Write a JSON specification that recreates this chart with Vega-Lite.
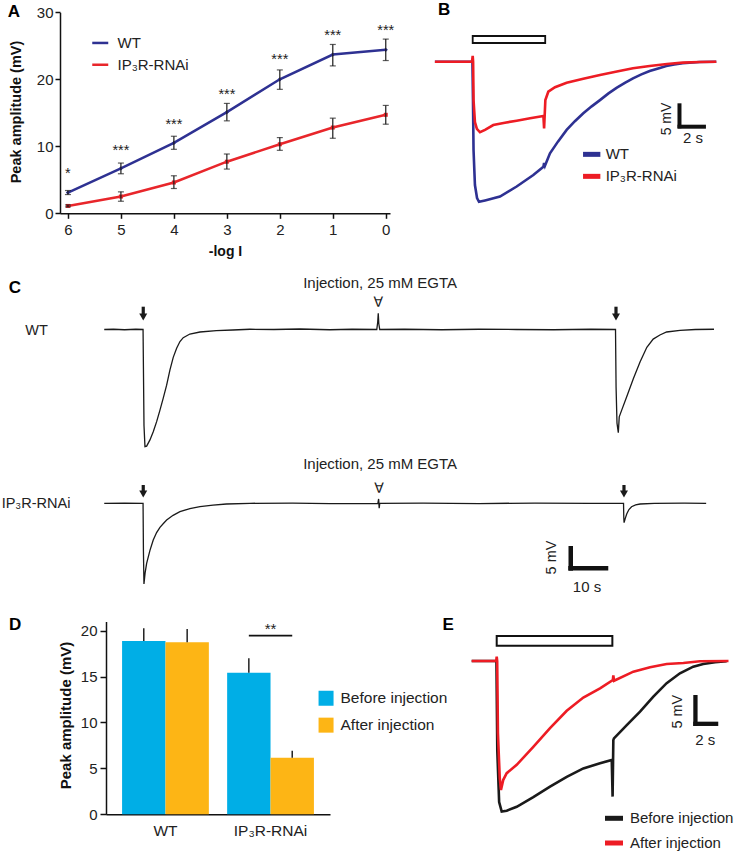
{
 "$schema": "https://vega.github.io/schema/vega-lite/v6.json",
 "width": 736, "height": 853, "autosize": {"type": "none"}, "padding": 0, "background": "white",
 "config": {
  "view": {"stroke": null},
  "font": "Liberation Sans",
  "axis": {"grid": false, "domainColor": "#111", "tickColor": "#111", "labelColor": "#222", "titleColor": "#111", "labelOverlap": false},
  "legend": {"labelColor": "#222", "padding": 0, "titlePadding": 0, "symbolOpacity": 1},
  "text": {"color": "#222"}
 },
 "resolve": {"scale": {"x": "independent", "y": "independent", "color": "independent", "xOffset": "independent"}},
 "layer": [
  {
   "data": {"values": [
    {"logI": 6, "group": "WT", "amp": 3.1, "lo": 2.8, "hi": 3.4},
    {"logI": 5, "group": "WT", "amp": 6.7, "lo": 5.9, "hi": 7.5},
    {"logI": 4, "group": "WT", "amp": 10.5, "lo": 9.55, "hi": 11.5},
    {"logI": 3, "group": "WT", "amp": 15.1, "lo": 13.8, "hi": 16.4},
    {"logI": 2, "group": "WT", "amp": 20.0, "lo": 18.5, "hi": 21.4},
    {"logI": 1, "group": "WT", "amp": 23.7, "lo": 22.0, "hi": 25.2},
    {"logI": 0, "group": "WT", "amp": 24.4, "lo": 22.8, "hi": 26.0},
    {"logI": 6, "group": "IP₃R-RNAi", "amp": 1.1, "lo": 0.95, "hi": 1.25},
    {"logI": 5, "group": "IP₃R-RNAi", "amp": 2.5, "lo": 1.8, "hi": 3.2},
    {"logI": 4, "group": "IP₃R-RNAi", "amp": 4.6, "lo": 3.7, "hi": 5.6},
    {"logI": 3, "group": "IP₃R-RNAi", "amp": 7.7, "lo": 6.6, "hi": 8.85},
    {"logI": 2, "group": "IP₃R-RNAi", "amp": 10.3, "lo": 9.4, "hi": 11.3},
    {"logI": 1, "group": "IP₃R-RNAi", "amp": 12.8, "lo": 11.2, "hi": 14.2},
    {"logI": 0, "group": "IP₃R-RNAi", "amp": 14.7, "lo": 13.3, "hi": 16.1}
   ]},
   "layer": [
    {
     "mark": {"type": "line", "strokeWidth": 2.5},
     "encoding": {
      "x": {"field": "logI", "type": "quantitative", "title": "-log I",
            "scale": {"domain": [6.15, -0.08], "range": [60, 390], "nice": false, "zero": false},
            "axis": {"orient": "bottom", "offset": -639.7, "values": [6, 5, 4, 3, 2, 1, 0], "format": "d", "title": "-log I", "titleFontSize": 14, "titleFontWeight": "bold", "titleY": 38, "titleBaseline": "middle", "labelFontSize": 15, "labelPadding": 4, "tickSize": 5, "tickWidth": 1.5, "domainWidth": 1.5, "labelFlush": false}},
      "y": {"field": "amp", "type": "quantitative", "title": "Peak amplitude (mV)",
            "scale": {"domain": [0, 30], "range": [213.3, 12.3], "nice": false, "zero": false},
            "axis": {"orient": "left", "offset": -60, "values": [0, 10, 20, 30], "title": "Peak amplitude (mV)", "titleFontSize": 14.5, "titleFontWeight": "bold", "titleX": -43.3, "titleY": 111.5, "titleBaseline": "middle", "titleAngle": 270, "labelFontSize": 15, "labelPadding": 2, "tickSize": 5, "tickWidth": 1.5, "domainWidth": 1.5}},
      "color": {"field": "group", "type": "nominal",
                "scale": {"domain": ["WT", "IP₃R-RNAi"], "range": ["#2e3192", "#e8262b"]},
                "legend": {"orient": "none", "legendX": 90.75, "legendY": 33.45, "title": null, "symbolType": "stroke", "symbolSize": 256, "symbolStrokeWidth": 2.5, "labelFontSize": 15, "rowPadding": 3.8, "labelOffset": 7.75}}
     }
    },
    {
     "transform": [{"filter": "datum.group === 'WT'"}],
     "mark": {"type": "point", "filled": true, "size": 18, "opacity": 1, "shape": "diamond"},
     "encoding": {
      "x": {"field": "logI", "type": "quantitative", "title": "-log I"},
      "y": {"field": "amp", "type": "quantitative", "title": "Peak amplitude (mV)"},
      "color": {"field": "group", "type": "nominal", "legend": null}
     }
    },
    {
     "transform": [{"filter": "datum.group !== 'WT'"}],
     "mark": {"type": "point", "filled": true, "size": 16, "opacity": 1, "shape": "square"},
     "encoding": {
      "x": {"field": "logI", "type": "quantitative", "title": "-log I"},
      "y": {"field": "amp", "type": "quantitative", "title": "Peak amplitude (mV)"},
      "color": {"field": "group", "type": "nominal", "legend": null}
     }
    },
    {
     "mark": {"type": "errorbar", "ticks": true, "color": "#1a1a1a", "thickness": 1.2, "size": 6},
     "encoding": {
      "x": {"field": "logI", "type": "quantitative", "title": "-log I"},
      "y": {"field": "lo", "type": "quantitative", "title": "Peak amplitude (mV)"},
      "y2": {"field": "hi"}
     }
    },
    {
     "data": {"values": [
      {"logI": 6, "amp": 5.21, "s": "*"},
      {"logI": 5, "amp": 8.64, "s": "***"},
      {"logI": 4, "amp": 12.57, "s": "***"},
      {"logI": 3, "amp": 17.04, "s": "***"},
      {"logI": 2, "amp": 22.22, "s": "***"},
      {"logI": 1, "amp": 25.81, "s": "***"},
      {"logI": 0, "amp": 26.6, "s": "***"}
     ]},
     "mark": {"type": "text", "fontSize": 14.5, "baseline": "alphabetic", "align": "center", "color": "#222"},
     "encoding": {
      "x": {"field": "logI", "type": "quantitative", "title": "-log I"},
      "y": {"field": "amp", "type": "quantitative", "title": "Peak amplitude (mV)"},
      "text": {"field": "s"}
     }
    },
    {
     "data": {"values": [{"logI": 7.02, "amp": 29.34, "s": "A"}]},
     "mark": {"type": "text", "fontSize": 17, "fontWeight": "bold", "baseline": "alphabetic", "align": "center", "color": "#000"},
     "encoding": {
      "x": {"field": "logI", "type": "quantitative", "title": "-log I"},
      "y": {"field": "amp", "type": "quantitative", "title": "Peak amplitude (mV)"},
      "text": {"field": "s"}
     }
    }
   ]
  },
  {
   "data": {"values": [
    {"trace": "WT", "t": -2.7, "v": 0}, {"trace": "WT", "t": -0.02, "v": 0}, {"trace": "WT", "t": 0.02, "v": -8}, {"trace": "WT", "t": 0.06, "v": -18.4}, {"trace": "WT", "t": 0.16, "v": -25.7}, {"trace": "WT", "t": 0.31, "v": -28.4}, {"trace": "WT", "t": 0.45, "v": -29.2}, {"trace": "WT", "t": 0.88, "v": -28.9}, {"trace": "WT", "t": 1.95, "v": -28.1}, {"trace": "WT", "t": 3.14, "v": -26.0}, {"trace": "WT", "t": 4.33, "v": -23.6}, {"trace": "WT", "t": 5.05, "v": -21.9}, {"trace": "WT", "t": 5.1, "v": -21.1}, {"trace": "WT", "t": 5.16, "v": -21.7}, {"trace": "WT", "t": 5.52, "v": -19.1}, {"trace": "WT", "t": 6.1, "v": -16.6}, {"trace": "WT", "t": 6.71, "v": -14.2}, {"trace": "WT", "t": 7.3, "v": -12.4}, {"trace": "WT", "t": 7.9, "v": -10.75}, {"trace": "WT", "t": 8.5, "v": -9.3}, {"trace": "WT", "t": 9.09, "v": -8.0}, {"trace": "WT", "t": 9.7, "v": -6.6}, {"trace": "WT", "t": 10.3, "v": -5.4}, {"trace": "WT", "t": 10.9, "v": -4.35}, {"trace": "WT", "t": 11.45, "v": -3.46}, {"trace": "WT", "t": 12.05, "v": -2.65}, {"trace": "WT", "t": 12.64, "v": -1.94}, {"trace": "WT", "t": 13.25, "v": -1.4}, {"trace": "WT", "t": 13.83, "v": -0.9}, {"trace": "WT", "t": 14.4, "v": -0.6}, {"trace": "WT", "t": 15.0, "v": -0.33}, {"trace": "WT", "t": 16.2, "v": -0.06}, {"trace": "WT", "t": 17.4, "v": 0},
    {"trace": "IP₃R-RNAi", "t": -2.7, "v": 0}, {"trace": "IP₃R-RNAi", "t": -0.05, "v": 0}, {"trace": "IP₃R-RNAi", "t": 0, "v": 1.2}, {"trace": "IP₃R-RNAi", "t": 0.03, "v": 0}, {"trace": "IP₃R-RNAi", "t": 0.06, "v": -8}, {"trace": "IP₃R-RNAi", "t": 0.16, "v": -12.6}, {"trace": "IP₃R-RNAi", "t": 0.3, "v": -14.0}, {"trace": "IP₃R-RNAi", "t": 0.52, "v": -14.7}, {"trace": "IP₃R-RNAi", "t": 0.88, "v": -14.2}, {"trace": "IP₃R-RNAi", "t": 1.47, "v": -13.2}, {"trace": "IP₃R-RNAi", "t": 2.3, "v": -12.7}, {"trace": "IP₃R-RNAi", "t": 3.14, "v": -12.3}, {"trace": "IP₃R-RNAi", "t": 4.1, "v": -11.8}, {"trace": "IP₃R-RNAi", "t": 5.05, "v": -11.3}, {"trace": "IP₃R-RNAi", "t": 5.1, "v": -13.9}, {"trace": "IP₃R-RNAi", "t": 5.19, "v": -8.0}, {"trace": "IP₃R-RNAi", "t": 5.4, "v": -6.25}, {"trace": "IP₃R-RNAi", "t": 5.88, "v": -5.33}, {"trace": "IP₃R-RNAi", "t": 6.71, "v": -4.38}, {"trace": "IP₃R-RNAi", "t": 7.9, "v": -3.55}, {"trace": "IP₃R-RNAi", "t": 9.09, "v": -2.77}, {"trace": "IP₃R-RNAi", "t": 10.3, "v": -2.05}, {"trace": "IP₃R-RNAi", "t": 11.45, "v": -1.38}, {"trace": "IP₃R-RNAi", "t": 12.64, "v": -0.9}, {"trace": "IP₃R-RNAi", "t": 13.88, "v": -0.48}, {"trace": "IP₃R-RNAi", "t": 15.0, "v": -0.2}, {"trace": "IP₃R-RNAi", "t": 16.24, "v": -0.06}, {"trace": "IP₃R-RNAi", "t": 17.4, "v": 0}
   ]},
   "layer": [
    {
     "data": {"values": [{"t0": 0, "t1": 5.18, "v0": 5.35, "v1": 3.9}]},
     "mark": {"type": "rect", "fill": "white", "stroke": "#111", "strokeWidth": 1.8},
     "encoding": {
      "x": {"field": "t0", "type": "quantitative", "axis": null},
      "x2": {"field": "t1"},
      "y": {"field": "v0", "type": "quantitative", "axis": null},
      "y2": {"field": "v1"}
     }
    },
    {
     "transform": [{"filter": "datum.trace === 'WT'"}],
     "mark": {"type": "line", "strokeWidth": 2.6},
     "encoding": {
      "x": {"field": "t", "type": "quantitative", "scale": {"domain": [-3, 17.5], "range": [430.7, 717.7], "nice": false, "zero": false}, "axis": null},
      "y": {"field": "v", "type": "quantitative", "scale": {"domain": [-31, 7], "range": [210.5, 28.1], "nice": false, "zero": false}, "axis": null},
      "color": {"field": "trace", "type": "nominal", "scale": {"domain": ["WT", "IP₃R-RNAi"], "range": ["#2e3192", "#ed1c24"]},
                "legend": {"orient": "none", "legendX": 580.2, "legendY": 142.85, "title": null, "symbolType": "stroke", "symbolSize": 300, "symbolStrokeWidth": 5, "labelFontSize": 15, "rowPadding": -2.3, "labelOffset": 2.5}}
     }
    },
    {
     "transform": [{"filter": "datum.trace !== 'WT'"}],
     "mark": {"type": "line", "strokeWidth": 2.6},
     "encoding": {
      "x": {"field": "t", "type": "quantitative", "axis": null},
      "y": {"field": "v", "type": "quantitative", "axis": null},
      "color": {"field": "trace", "type": "nominal", "legend": null}
     }
    },
    {
     "data": {"values": [{"t0": 14.77, "t1": 14.77, "v0": -8.67, "v1": -13.88}, {"t0": 14.63, "t1": 16.66, "v0": -13.54, "v1": -13.54}]},
     "mark": {"type": "rule", "strokeWidth": 4, "color": "#111"},
     "encoding": {
      "x": {"field": "t0", "type": "quantitative", "axis": null},
      "x2": {"field": "t1"},
      "y": {"field": "v0", "type": "quantitative", "axis": null},
      "y2": {"field": "v1"}
     }
    },
    {
     "data": {"values": [{"t": 15.74, "v": -17.0, "s": "2 s"}]},
     "mark": {"type": "text", "fontSize": 15, "baseline": "alphabetic", "align": "center", "color": "#222"},
     "encoding": {
      "x": {"field": "t", "type": "quantitative", "axis": null},
      "y": {"field": "v", "type": "quantitative", "axis": null},
      "text": {"field": "s"}
     }
    },
    {
     "data": {"values": [{"t": 13.86, "v": -11.94, "s": "5 mV"}]},
     "mark": {"type": "text", "fontSize": 14, "angle": 270, "baseline": "middle", "align": "center", "color": "#222"},
     "encoding": {
      "x": {"field": "t", "type": "quantitative", "axis": null},
      "y": {"field": "v", "type": "quantitative", "axis": null},
      "text": {"field": "s"}
     }
    },
    {
     "data": {"values": [{"t": -2.04, "v": 9.73, "s": "B"}]},
     "mark": {"type": "text", "fontSize": 17, "fontWeight": "bold", "baseline": "alphabetic", "align": "center", "color": "#000"},
     "encoding": {
      "x": {"field": "t", "type": "quantitative", "axis": null},
      "y": {"field": "v", "type": "quantitative", "axis": null},
      "text": {"field": "s"}
     }
    }
   ]
  },
  {
   "data": {"values": [
    {"t": -10.46, "v": 0}, {"t": -8, "v": 0.05}, {"t": -5, "v": -0.05}, {"t": -2, "v": 0.05}, {"t": -0.05, "v": 0}, {"t": 0.05, "v": -8}, {"t": 0.2, "v": -20}, {"t": 0.46, "v": -24.4}, {"t": 0.91, "v": -24.3}, {"t": 1.8, "v": -23.0}, {"t": 2.68, "v": -21.3}, {"t": 3.59, "v": -19.2}, {"t": 4.48, "v": -16.8}, {"t": 5.36, "v": -14.3}, {"t": 6.27, "v": -11.6}, {"t": 7.16, "v": -8.4}, {"t": 8.04, "v": -5.8}, {"t": 8.95, "v": -3.9}, {"t": 9.84, "v": -2.5}, {"t": 10.72, "v": -1.7}, {"t": 12.5, "v": -0.94}, {"t": 15.2, "v": -0.52}, {"t": 19.6, "v": -0.25}, {"t": 24, "v": -0.1}, {"t": 28.6, "v": 0.05}, {"t": 35, "v": 0}, {"t": 42, "v": 0.1}, {"t": 50, "v": -0.05}, {"t": 56, "v": 0.05}, {"t": 62.6, "v": 0}, {"t": 62.85, "v": 1.5}, {"t": 63.0, "v": 3.4}, {"t": 63.15, "v": 1.2}, {"t": 63.4, "v": 0}, {"t": 70, "v": 0.05}, {"t": 80, "v": -0.05}, {"t": 90, "v": 0.05}, {"t": 100, "v": 0}, {"t": 110, "v": -0.05}, {"t": 120, "v": 0.05}, {"t": 126.6, "v": 0}, {"t": 126.75, "v": -12}, {"t": 127.0, "v": -19.5}, {"t": 127.35, "v": -21.5}, {"t": 127.6, "v": -18.2}, {"t": 128.26, "v": -16.8}, {"t": 129.6, "v": -14.0}, {"t": 131.4, "v": -10.2}, {"t": 133.2, "v": -6.7}, {"t": 135.0, "v": -3.7}, {"t": 136.7, "v": -2.0}, {"t": 138.5, "v": -1.15}, {"t": 140.3, "v": -0.52}, {"t": 143.9, "v": -0.17}, {"t": 148, "v": 0}, {"t": 153, "v": 0.05}
   ]},
   "layer": [
    {
     "mark": {"type": "line", "strokeWidth": 1.3, "color": "#1a1a1a"},
     "encoding": {
      "x": {"field": "t", "type": "quantitative", "scale": {"domain": [-38.4, 158.9], "range": [0, 736], "nice": false, "zero": false}, "axis": null},
      "y": {"field": "v", "type": "quantitative", "scale": {"domain": [-30, 12], "range": [473.5, 271.9], "nice": false, "zero": false}, "axis": null}
     }
    },
    {
     "data": {"values": [{"t": 0, "vTop": 4.75, "vBot": 3.23, "vHead": 2.6}, {"t": 126.73, "vTop": 4.75, "vBot": 3.23, "vHead": 2.6}]},
     "layer": [
      {
       "mark": {"type": "rule", "strokeWidth": 3.2, "color": "#1a1a1a"},
       "encoding": {
        "x": {"field": "t", "type": "quantitative", "axis": null},
        "y": {"field": "vTop", "type": "quantitative", "axis": null},
        "y2": {"field": "vBot"}
       }
      },
      {
       "mark": {"type": "point", "shape": "triangle-down", "filled": true, "size": 64, "color": "#1a1a1a", "opacity": 1},
       "encoding": {
        "x": {"field": "t", "type": "quantitative", "axis": null},
        "y": {"field": "vHead", "type": "quantitative", "axis": null}
       }
      }
     ]
    },
    {
     "data": {"values": [{"t": 63.0, "v": 4.67, "s": "∀"}]},
     "mark": {"type": "text", "font": "DejaVu Sans", "fontSize": 14, "baseline": "alphabetic", "align": "center", "color": "#1a1a1a"},
     "encoding": {
      "x": {"field": "t", "type": "quantitative", "axis": null},
      "y": {"field": "v", "type": "quantitative", "axis": null},
      "text": {"field": "s"}
     }
    },
    {
     "data": {"values": [{"t": 63.5, "v": 8.71, "s": "Injection, 25 mM EGTA"}]},
     "mark": {"type": "text", "fontSize": 15, "baseline": "alphabetic", "align": "center", "color": "#222"},
     "encoding": {
      "x": {"field": "t", "type": "quantitative", "axis": null},
      "y": {"field": "v", "type": "quantitative", "axis": null},
      "text": {"field": "s"}
     }
    },
    {
     "data": {"values": [{"t": -28.6, "v": -1.19, "s": "WT"}]},
     "mark": {"type": "text", "fontSize": 14.5, "baseline": "alphabetic", "align": "center", "color": "#222"},
     "encoding": {
      "x": {"field": "t", "type": "quantitative", "axis": null},
      "y": {"field": "v", "type": "quantitative", "axis": null},
      "text": {"field": "s"}
     }
    },
    {
     "data": {"values": [{"t": -34.4, "v": 7.67, "s": "C"}]},
     "mark": {"type": "text", "fontSize": 17, "fontWeight": "bold", "baseline": "alphabetic", "align": "center", "color": "#000"},
     "encoding": {
      "x": {"field": "t", "type": "quantitative", "axis": null},
      "y": {"field": "v", "type": "quantitative", "axis": null},
      "text": {"field": "s"}
     }
    }
   ]
  },
  {
   "data": {"values": [
    {"t": -10.46, "v": 0}, {"t": -5, "v": 0.05}, {"t": -0.05, "v": 0}, {"t": 0.05, "v": -10}, {"t": 0.19, "v": -16.8}, {"t": 0.5, "v": -14.5}, {"t": 0.91, "v": -12.5}, {"t": 1.8, "v": -9.8}, {"t": 2.68, "v": -7.65}, {"t": 3.58, "v": -6.1}, {"t": 4.48, "v": -5.0}, {"t": 5.4, "v": -4.2}, {"t": 6.27, "v": -3.48}, {"t": 8, "v": -2.5}, {"t": 9.84, "v": -1.75}, {"t": 12.5, "v": -1.1}, {"t": 15.2, "v": -0.71}, {"t": 18.7, "v": -0.4}, {"t": 22.3, "v": -0.15}, {"t": 28.6, "v": 0}, {"t": 40, "v": 0.05}, {"t": 50, "v": -0.05}, {"t": 62.9, "v": 0}, {"t": 63.1, "v": 0.9}, {"t": 63.25, "v": -1.0}, {"t": 63.4, "v": 0}, {"t": 75, "v": 0.05}, {"t": 90, "v": -0.05}, {"t": 105, "v": 0.05}, {"t": 120, "v": 0}, {"t": 128.75, "v": 0}, {"t": 128.82, "v": -3}, {"t": 128.9, "v": -4.04}, {"t": 129.2, "v": -3.2}, {"t": 129.6, "v": -2.23}, {"t": 130.2, "v": -1.3}, {"t": 130.9, "v": -0.71}, {"t": 132, "v": -0.35}, {"t": 133.2, "v": -0.15}, {"t": 137, "v": 0}, {"t": 145, "v": 0.05}, {"t": 150.9, "v": 0}
   ]},
   "layer": [
    {
     "mark": {"type": "line", "strokeWidth": 1.3, "color": "#1a1a1a"},
     "encoding": {
      "x": {"field": "t", "type": "quantitative", "scale": {"domain": [-38.4, 158.9], "range": [0, 736], "nice": false, "zero": false}, "axis": null},
      "y": {"field": "v", "type": "quantitative", "scale": {"domain": [-25, 10], "range": [623.3, 455.3], "nice": false, "zero": false}, "axis": null}
     }
    },
    {
     "data": {"values": [{"t": 0, "vTop": 3.81, "vBot": 2.56, "vHead": 1.94}, {"t": 128.87, "vTop": 3.81, "vBot": 2.56, "vHead": 1.94}]},
     "layer": [
      {
       "mark": {"type": "rule", "strokeWidth": 3.2, "color": "#1a1a1a"},
       "encoding": {
        "x": {"field": "t", "type": "quantitative", "axis": null},
        "y": {"field": "vTop", "type": "quantitative", "axis": null},
        "y2": {"field": "vBot"}
       }
      },
      {
       "mark": {"type": "point", "shape": "triangle-down", "filled": true, "size": 64, "color": "#1a1a1a", "opacity": 1},
       "encoding": {
        "x": {"field": "t", "type": "quantitative", "axis": null},
        "y": {"field": "vHead", "type": "quantitative", "axis": null}
       }
      }
     ]
    },
    {
     "data": {"values": [{"t": 63.2, "v": 2.13, "s": "∀"}]},
     "mark": {"type": "text", "font": "DejaVu Sans", "fontSize": 14, "baseline": "alphabetic", "align": "center", "color": "#1a1a1a"},
     "encoding": {
      "x": {"field": "t", "type": "quantitative", "axis": null},
      "y": {"field": "v", "type": "quantitative", "axis": null},
      "text": {"field": "s"}
     }
    },
    {
     "data": {"values": [{"t": 63.5, "v": 7.06, "s": "Injection, 25 mM EGTA"}, {"t": 118.95, "v": -18.42, "s": "10 s"}]},
     "mark": {"type": "text", "fontSize": 15, "baseline": "alphabetic", "align": "center", "color": "#222"},
     "encoding": {
      "x": {"field": "t", "type": "quantitative", "axis": null},
      "y": {"field": "v", "type": "quantitative", "axis": null},
      "text": {"field": "s"}
     }
    },
    {
     "data": {"values": [{"t": -37.96, "v": -1.08, "s": "IP₃R-RNAi"}]},
     "mark": {"type": "text", "fontSize": 14.5, "baseline": "alphabetic", "align": "left", "color": "#222"},
     "encoding": {
      "x": {"field": "t", "type": "quantitative", "axis": null},
      "y": {"field": "v", "type": "quantitative", "axis": null},
      "text": {"field": "s"}
     }
    },
    {
     "data": {"values": [{"t0": 114.6, "t1": 114.6, "v0": -8.9, "v1": -14.04}, {"t0": 113.94, "t1": 124.66, "v0": -13.54, "v1": -13.54}]},
     "mark": {"type": "rule", "strokeWidth": 4.5, "color": "#111"},
     "encoding": {
      "x": {"field": "t0", "type": "quantitative", "axis": null},
      "x2": {"field": "t1"},
      "y": {"field": "v0", "type": "quantitative", "axis": null},
      "y2": {"field": "v1"}
     }
    },
    {
     "data": {"values": [{"t": 109.7, "v": -11.29, "s": "5 mV"}]},
     "mark": {"type": "text", "fontSize": 14.5, "angle": 270, "baseline": "middle", "align": "center", "color": "#222"},
     "encoding": {
      "x": {"field": "t", "type": "quantitative", "axis": null},
      "y": {"field": "v", "type": "quantitative", "axis": null},
      "text": {"field": "s"}
     }
    }
   ]
  },
  {
   "data": {"values": [
    {"genotype": "WT", "phase": "Before injection", "amp": 18.88, "hi": 20.26},
    {"genotype": "WT", "phase": "After injection", "amp": 18.74, "hi": 20.19},
    {"genotype": "IP₃R-RNAi", "phase": "Before injection", "amp": 15.43, "hi": 17.0},
    {"genotype": "IP₃R-RNAi", "phase": "After injection", "amp": 6.17, "hi": 6.93}
   ]},
   "layer": [
    {
     "mark": {"type": "bar"},
     "encoding": {
      "x": {"field": "genotype", "type": "nominal", "sort": null, "title": null,
            "scale": {"domain": ["WT", "IP₃R-RNAi"], "range": [106, 330], "paddingInner": 0.174, "paddingOuter": 0.153},
            "axis": {"orient": "bottom", "offset": -38.7, "title": null, "ticks": false, "labelFontSize": 15.5, "labelPadding": 9, "labelAngle": 0, "domainWidth": 1.5}},
      "xOffset": {"field": "phase", "type": "nominal", "sort": null, "scale": {"domain": ["Before injection", "After injection"], "paddingInner": 0, "paddingOuter": 0}},
      "y": {"field": "amp", "type": "quantitative", "title": "Peak amplitude (mV)",
            "scale": {"domain": [0, 21], "range": [814.3, 621.5], "nice": false, "zero": false},
            "axis": {"orient": "left", "offset": -106, "values": [0, 5, 10, 15, 20], "title": "Peak amplitude (mV)", "titleFontSize": 15, "titleFontWeight": "bold", "titleX": -41, "titleY": 715, "titleBaseline": "middle", "titleAngle": 270, "labelFontSize": 15, "labelPadding": 3, "tickSize": 6, "tickWidth": 1.5, "domainWidth": 1.5}},
      "color": {"field": "phase", "type": "nominal", "scale": {"domain": ["Before injection", "After injection"], "range": ["#00aee6", "#fdb515"]},
                "legend": {"orient": "none", "legendX": 318.3, "legendY": 690.5, "title": null, "symbolType": "square", "symbolSize": 225, "symbolStrokeWidth": 0, "labelFontSize": 15.5, "rowPadding": 9.9, "labelOffset": 6.7}}
     }
    },
    {
     "mark": {"type": "rule", "strokeWidth": 1.5, "color": "#222"},
     "encoding": {
      "x": {"field": "genotype", "type": "nominal", "title": null},
      "xOffset": {"field": "phase", "type": "nominal"},
      "y": {"field": "amp", "type": "quantitative", "title": "Peak amplitude (mV)"},
      "y2": {"field": "hi"}
     }
    },
    {
     "data": {"values": [{"genotype": "IP₃R-RNAi", "phase": "Before injection", "amp": 19.46}, {"genotype": "IP₃R-RNAi", "phase": "After injection", "amp": 19.46}]},
     "mark": {"type": "line", "strokeWidth": 1.8, "color": "#111"},
     "encoding": {
      "x": {"field": "genotype", "type": "nominal", "title": null},
      "xOffset": {"field": "phase", "type": "nominal"},
      "y": {"field": "amp", "type": "quantitative", "title": "Peak amplitude (mV)"}
     }
    },
    {
     "data": {"values": [{"genotype": "IP₃R-RNAi", "amp": 19.62, "s": "**"}]},
     "mark": {"type": "text", "fontSize": 15, "baseline": "alphabetic", "align": "center", "color": "#222"},
     "encoding": {
      "x": {"field": "genotype", "type": "nominal", "title": null},
      "y": {"field": "amp", "type": "quantitative", "title": "Peak amplitude (mV)"},
      "text": {"field": "s"}
     }
    }
   ]
  },
  {
   "data": {"values": [
    {"cond": "Before injection", "t": -2.05, "v": 0}, {"cond": "Before injection", "t": -0.02, "v": 0}, {"cond": "Before injection", "t": 0.05, "v": -15}, {"cond": "Before injection", "t": 0.2, "v": -23.5}, {"cond": "Before injection", "t": 0.41, "v": -25.1}, {"cond": "Before injection", "t": 0.82, "v": -24.95}, {"cond": "Before injection", "t": 1.64, "v": -24.3}, {"cond": "Before injection", "t": 3.0, "v": -22.7}, {"cond": "Before injection", "t": 4.37, "v": -20.95}, {"cond": "Before injection", "t": 5.74, "v": -19.3}, {"cond": "Before injection", "t": 7.1, "v": -17.9}, {"cond": "Before injection", "t": 8.47, "v": -17.05}, {"cond": "Before injection", "t": 9.43, "v": -16.5}, {"cond": "Before injection", "t": 9.5, "v": -22.6}, {"cond": "Before injection", "t": 9.56, "v": -13.2}, {"cond": "Before injection", "t": 9.61, "v": -12.9}, {"cond": "Before injection", "t": 10.66, "v": -10.7}, {"cond": "Before injection", "t": 11.75, "v": -8.45}, {"cond": "Before injection", "t": 12.84, "v": -5.95}, {"cond": "Before injection", "t": 13.93, "v": -3.7}, {"cond": "Before injection", "t": 15.02, "v": -2.05}, {"cond": "Before injection", "t": 16.11, "v": -0.95}, {"cond": "Before injection", "t": 16.93, "v": -0.5}, {"cond": "Before injection", "t": 17.9, "v": -0.2}, {"cond": "Before injection", "t": 18.85, "v": -0.05},
    {"cond": "After injection", "t": -2.05, "v": 0}, {"cond": "After injection", "t": -0.04, "v": 0}, {"cond": "After injection", "t": 0, "v": 0.72}, {"cond": "After injection", "t": 0.04, "v": 0}, {"cond": "After injection", "t": 0.1, "v": -12}, {"cond": "After injection", "t": 0.25, "v": -19.5}, {"cond": "After injection", "t": 0.35, "v": -21.5}, {"cond": "After injection", "t": 0.54, "v": -19.8}, {"cond": "After injection", "t": 0.82, "v": -18.7}, {"cond": "After injection", "t": 1.64, "v": -17.3}, {"cond": "After injection", "t": 3.0, "v": -14.3}, {"cond": "After injection", "t": 4.37, "v": -11.2}, {"cond": "After injection", "t": 5.74, "v": -8.3}, {"cond": "After injection", "t": 7.1, "v": -6.1}, {"cond": "After injection", "t": 8.47, "v": -4.55}, {"cond": "After injection", "t": 9.52, "v": -3.17}, {"cond": "After injection", "t": 9.56, "v": -2.4}, {"cond": "After injection", "t": 9.62, "v": -3.3}, {"cond": "After injection", "t": 11.2, "v": -1.78}, {"cond": "After injection", "t": 12.57, "v": -1.05}, {"cond": "After injection", "t": 13.93, "v": -0.5}, {"cond": "After injection", "t": 15.3, "v": -0.33}, {"cond": "After injection", "t": 16.66, "v": -0.05}, {"cond": "After injection", "t": 19.0, "v": 0}
   ]},
   "layer": [
    {
     "data": {"values": [{"t0": 0, "t1": 9.48, "v0": 4.17, "v1": 2.55}]},
     "mark": {"type": "rect", "fill": "white", "stroke": "#111", "strokeWidth": 2},
     "encoding": {
      "x": {"field": "t0", "type": "quantitative", "axis": null},
      "x2": {"field": "t1"},
      "y": {"field": "v0", "type": "quantitative", "axis": null},
      "y2": {"field": "v1"}
     }
    },
    {
     "transform": [{"filter": "datum.cond === 'Before injection'"}],
     "mark": {"type": "line", "strokeWidth": 2.6},
     "encoding": {
      "x": {"field": "t", "type": "quantitative", "scale": {"domain": [-3, 19.5], "range": [460.1, 734.6], "nice": false, "zero": false}, "axis": null},
      "y": {"field": "v", "type": "quantitative", "scale": {"domain": [-28, 5], "range": [829, 631], "nice": false, "zero": false}, "axis": null},
      "color": {"field": "cond", "type": "nominal", "scale": {"domain": ["Before injection", "After injection"], "range": ["#1a1a1a", "#ed1c24"]},
                "legend": {"orient": "none", "legendX": 602.5, "legendY": 806.8, "title": null, "symbolType": "stroke", "symbolSize": 324, "symbolStrokeWidth": 5, "labelFontSize": 15, "rowPadding": 2.7, "labelOffset": 4.5}}
     }
    },
    {
     "transform": [{"filter": "datum.cond === 'After injection'"}],
     "mark": {"type": "line", "strokeWidth": 2.6},
     "encoding": {
      "x": {"field": "t", "type": "quantitative", "axis": null},
      "y": {"field": "v", "type": "quantitative", "axis": null},
      "color": {"field": "cond", "type": "nominal", "legend": null}
     }
    },
    {
     "data": {"values": [{"t0": 16.29, "t1": 16.29, "v0": -5.67, "v1": -10.83}, {"t0": 16.11, "t1": 18.16, "v0": -10.47, "v1": -10.47}]},
     "mark": {"type": "rule", "strokeWidth": 4.3, "color": "#111"},
     "encoding": {
      "x": {"field": "t0", "type": "quantitative", "axis": null},
      "x2": {"field": "t1"},
      "y": {"field": "v0", "type": "quantitative", "axis": null},
      "y2": {"field": "v1"}
     }
    },
    {
     "data": {"values": [{"t": 17.09, "v": -14.0, "s": "2 s"}]},
     "mark": {"type": "text", "fontSize": 15, "baseline": "alphabetic", "align": "center", "color": "#222"},
     "encoding": {
      "x": {"field": "t", "type": "quantitative", "axis": null},
      "y": {"field": "v", "type": "quantitative", "axis": null},
      "text": {"field": "s"}
     }
    },
    {
     "data": {"values": [{"t": 14.82, "v": -8.45, "s": "5 mV"}]},
     "mark": {"type": "text", "fontSize": 14.5, "angle": 270, "baseline": "middle", "align": "center", "color": "#222"},
     "encoding": {
      "x": {"field": "t", "type": "quantitative", "axis": null},
      "y": {"field": "v", "type": "quantitative", "axis": null},
      "text": {"field": "s"}
     }
    },
    {
     "data": {"values": [{"t": -3.97, "v": 5.17, "s": "E"}, {"t": -39.48, "v": 5.17, "s": "D"}]},
     "mark": {"type": "text", "fontSize": 17, "fontWeight": "bold", "baseline": "alphabetic", "align": "center", "color": "#000"},
     "encoding": {
      "x": {"field": "t", "type": "quantitative", "axis": null},
      "y": {"field": "v", "type": "quantitative", "axis": null},
      "text": {"field": "s"}
     }
    }
   ]
  }
 ]
}
